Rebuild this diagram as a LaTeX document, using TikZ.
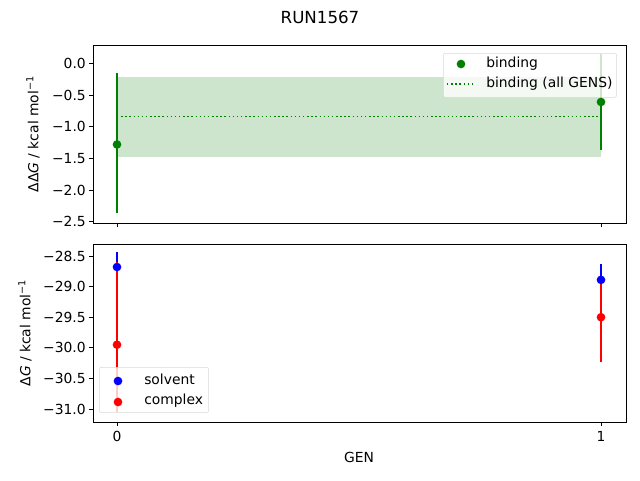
\documentclass[tikz,border=0pt]{standalone}
\usepackage{fontspec}
\setmainfont{DejaVu Sans}
\begin{document}
\begin{tikzpicture}[x=0.75pt,y=-0.75pt,font=\fontsize{10.4}{12}\selectfont,
 tick/.style={line width=0.6pt},
 lbl/.style={inner sep=0pt},
 dot/.style={circle,inner sep=0pt,minimum size=6.5pt},
 eb/.style={line width=1.1pt}]
\useasboundingbox (0,0) rectangle (640,480);
\definecolor{mgreen}{RGB}{0,128,0}
\node[lbl,font=\fontsize{12.5}{14}\selectfont] (title) at (320,17) {RUN1567};
% ---- top axes
\def\ty#1{63.3-63.4*(#1)}
\fill[mgreen!20] (117,{\ty{-0.21}}) rectangle (601,{\ty{-1.47}});
\draw[mgreen,dotted,line width=1.1pt] (117,{\ty{-0.84}}) -- (601,{\ty{-0.84}});
\draw[mgreen,eb] (117,{\ty{-0.15}}) -- (117,{\ty{-2.36}});
\node[dot,fill=mgreen] (b0) at (117,{\ty{-1.28}}) {};
\draw[mgreen,eb] (601,{\ty{0.15}}) -- (601,{\ty{-1.37}});
\node[dot,fill=mgreen] (b1) at (601,{\ty{-0.61}}) {};
\foreach \v/\t in {0/0.0,-0.5/−0.5,-1/−1.0,-1.5/−1.5,-2/−2.0,-2.5/−2.5}{
 \draw[tick] (93,{\ty{\v}}) -- (89,{\ty{\v}});
 \node[lbl,anchor=east] at (86,{\ty{\v}}) {\t};}
\draw[tick] (117,223) -- (117,227); \draw[tick] (601,223) -- (601,227);
\node[lbl,rotate=90] (yl1) at (33,134) {ΔΔ\textit{G} / kcal mol\textsuperscript{−1}};
% legend top
\node[draw=black!15,fill=white,fill opacity=0.8,rounded corners=1.5pt,inner sep=0pt,minimum width=130pt,minimum height=33pt,anchor=north west] (leg1) at (443,53) {};
\node[dot,fill=mgreen] (lg1) at (461,64) {};
\node[lbl,anchor=west] at (486,64) {binding};
\draw[mgreen,dotted,line width=1.1pt] (447,84) -- (475,84);
\node[lbl,anchor=west] at (486,84) {binding (all GENS)};
\draw[line width=0.6pt] (93,45) rectangle (626,223);
% ---- bottom axes
\def\by#1{256-61.2*((#1)+28.5)}
\draw[blue,eb] (117,252) -- (117,282);
\draw[red,eb] (117,262) -- (117,412);
\draw[blue,eb] (601,264) -- (601,294);
\draw[red,eb] (601,280) -- (601,362);
\node[dot,fill=blue] (s0) at (117,{\by{-28.68}}) {};
\node[dot,fill=blue] (s1) at (601,{\by{-28.89}}) {};
\node[dot,fill=red] (c0) at (117,{\by{-29.95}}) {};
\node[dot,fill=red] (c1) at (601,{\by{-29.5}}) {};
\foreach \v/\t in {-28.5/−28.5,-29/−29.0,-29.5/−29.5,-30/−30.0,-30.5/−30.5,-31/−31.0}{
 \draw[tick] (93,{\by{\v}}) -- (89,{\by{\v}});
 \node[lbl,anchor=east] at (86,{\by{\v}}) {\t};}
\draw[tick] (117,422) -- (117,426); \draw[tick] (601,422) -- (601,426);
\node[lbl,anchor=north] at (117,431) {0};
\node[lbl,anchor=north] at (601,431) {1};
\node[lbl] (xl) at (359,457) {GEN};
\node[lbl,rotate=90] (yl2) at (25,333) {Δ\textit{G} / kcal mol\textsuperscript{−1}};
\node[draw=black!15,fill=white,fill opacity=0.8,rounded corners=1.5pt,inner sep=0pt,minimum width=82pt,minimum height=34pt,anchor=north west] (leg2) at (99,367) {};
\node[dot,fill=blue] (lg2) at (118,381) {};
\node[lbl,anchor=west] at (144,379) {solvent};
\node[dot,fill=red] (lg3) at (118,402) {};
\node[lbl,anchor=west] at (144,401) {complex};
\draw[line width=0.6pt] (93,244) rectangle (626,422);
\end{tikzpicture}
\end{document}
